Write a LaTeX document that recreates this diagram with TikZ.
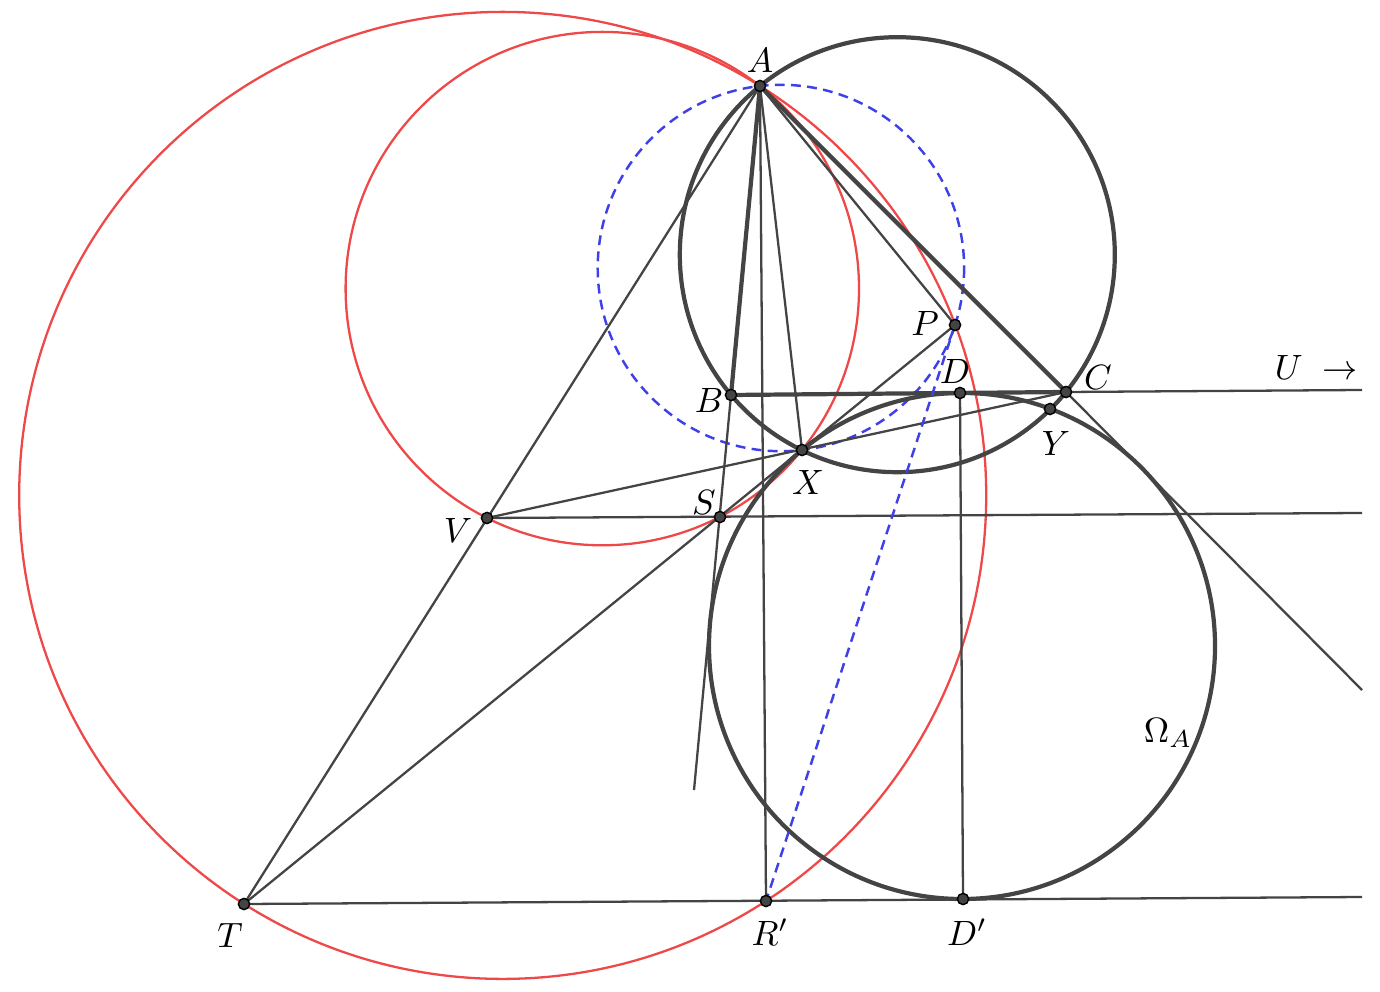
\documentclass[tikz,border=0pt]{standalone}
\definecolor{ggdark}{RGB}{68,68,68}
\definecolor{ggred}{RGB}{238,72,72}
\definecolor{ggblue}{RGB}{64,64,232}
\tikzset{
	thinline/.style={ggdark, line width=0.65pt},
	thickline/.style={ggdark, line width=1.2pt},
	redcirc/.style={ggred, line width=0.65pt},
	bluedash/.style={ggblue, line width=0.7pt, dash pattern=on 2.8pt off 1.8pt},
	dotpt/.style={circle, fill=ggdark, draw=black, line width=0.4pt, inner sep=0pt, minimum size=3.2pt},
	lbl/.style={font=\fontsize{10}{12}\selectfont, inner sep=0pt}
}
\begin{document}
\begin{tikzpicture}[x=0.01cm, y=-0.01cm]
		\useasboundingbox (0,0) rectangle (1380,992);
		% points
		\coordinate (A) at (760,86);
		\coordinate (B) at (731,395);
		\coordinate (C) at (1066,392);
		\coordinate (D) at (960,393);
		\coordinate (X) at (802,450);
		\coordinate (Y) at (1050,409);
		\coordinate (P) at (955,325);
		\coordinate (S) at (720,517);
		\coordinate (V) at (487,518);
		\coordinate (T) at (244,904);
		\coordinate (Rp) at (766,901);
		\coordinate (Dp) at (963,899);
		% free ends of the lines
		\coordinate (endAB) at (694,790);
		\coordinate (endAC) at (1362,690);
		\coordinate (endBC) at (1362,390);
		\coordinate (endV) at (1362,513);
		\coordinate (endT) at (1362,897);
		% circles
		\draw[redcirc] (502.7,495.4) circle[radius=483.5];
		\draw[redcirc] (602.3,288.6) circle[radius=256.7];
		\draw[bluedash] (780.9,268) circle[radius=183.2];
		\draw[thickline] (897.3,254.7) circle[radius=217.5];
		\draw[thickline] (962,646) circle[radius=253];
		% lines
		\draw[thickline] (A) -- (B);
		\draw[thickline] (A) -- (C);
		\draw[thickline] (B) -- (C);
		\draw[thinline] (B) -- (endAB);
		\draw[thinline] (C) -- (endAC);
		\draw[thinline] (C) -- (endBC);
		\draw[thinline] (V) -- (endV);
		\draw[thinline] (T) -- (endT);
		\draw[thinline] (T) -- (A);
		\draw[thinline] (T) -- (P);
		\draw[thinline] (V) -- (C);
		\draw[thinline] (A) -- (Rp);
		\draw[thinline] (A) -- (X);
		\draw[thinline] (A) -- (P);
		\draw[thinline] (D) -- (Dp);
		\draw[bluedash] (P) -- (Rp);
		% dots
		\foreach \p in {A,B,C,D,X,Y,P,S,V,T,Rp,Dp}
			\node[dotpt] at (\p) {};
		% labels
		\node[lbl] at (760,60) {$A$};
		\node[lbl] at (709,400) {$B$};
		\node[lbl] at (1098,377) {$C$};
		\node[lbl] at (955,371) {$D$};
		\node[lbl] at (808,482) {$X$};
		\node[lbl] at (1056,443) {$Y$};
		\node[lbl] at (925,323) {$P$};
		\node[lbl] at (704,502) {$S$};
		\node[lbl] at (458,530) {$V$};
		\node[lbl] at (230,935) {$T$};
		\node[lbl] at (770,932) {$R'$};
		\node[lbl] at (967,932) {$D'$};
		\node[lbl] at (1316,367) {$U\;\rightarrow$};
		\node[lbl] at (1168,733) {$\Omega_A$};
	\end{tikzpicture}
\end{document}
